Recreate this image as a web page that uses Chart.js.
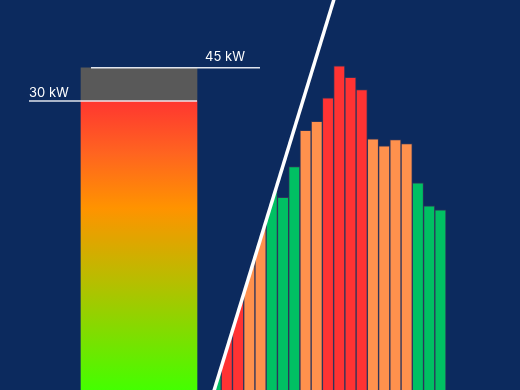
<!DOCTYPE html>
<html>
<head>
<meta charset="utf-8">
<script src="https://cdn.jsdelivr.net/npm/chart.js@4/dist/chart.umd.min.js"></script>
<style>
  html, body { margin: 0; padding: 0; background: #0c2a5e; }
  #wrap { width: 520px; height: 390px; position: relative; }
  #wrap canvas { position: absolute; left: 0; top: 0; }
</style>
</head>
<body>
<div id="wrap">
  <canvas id="capacity" width="520" height="390"></canvas>
  <canvas id="load" width="520" height="390"></canvas>
</div>
<script>
// ---- data ----
const loadValues = [50, 76, 78, 65, 67, 55, 49.4, 57.3, 66.6, 68.9, 74.9, 83.1, 80.2, 77.0, 64.4, 62.6, 64.2, 63.2, 53.1, 47.2, 46.2];
const loadIndex = loadValues.map((v, i) => i);
const orangeThreshold = 60;
const redThreshold = 72;
const baseLevel = -100;
const levelValues = [30, 45];
const levelLabels = ['30 kW', '45 kW'];

const GREEN = '#00c063';
const ORANGE = '#ff914d';
const RED = '#ff3333';
const GREY = '#595959';

function barColor(v) {
  if (v >= redThreshold) return RED;
  if (v >= orangeThreshold) return ORANGE;
  return GREEN;
}

function gradientFill(ctx) {
  const chart = ctx.chart;
  if (!chart.chartArea) return RED;
  const y = chart.scales.y;
  const top = y.getPixelForValue(levelValues[0]);
  const bottom = y.getPixelForValue(baseLevel);
  const g = chart.ctx.createLinearGradient(0, top, 0, bottom);
  g.addColorStop(0, '#ff3630');
  g.addColorStop(0.18, '#ff6420');
  g.addColorStop(0.37, '#ff9300');
  g.addColorStop(0.62, '#b8bd00');
  g.addColorStop(1, '#44ff00');
  return g;
}

// diagonal divider, as fractions of chart area
const divider = { bottomX: 0.4096, topX: 0.6442 };

const levelPlugin = {
  id: 'levels',
  afterDatasetsDraw(chart) {
    const c = chart.ctx;
    const bar = chart.getDatasetMeta(0).data[0];
    const left = bar.x - bar.width / 2;
    const right = bar.x + bar.width / 2;
    const y = chart.scales.y;
    c.save();
    c.strokeStyle = 'rgba(235,238,245,0.95)';
    c.lineWidth = 1.5;
    c.fillStyle = '#ffffff';
    c.font = '13px Inter, "Open Sans", sans-serif';
    c.textBaseline = 'alphabetic';
    // 30 kW
    const y30 = y.getPixelForValue(levelValues[0]);
    c.beginPath();
    c.moveTo(left - 52, y30);
    c.lineTo(right, y30);
    c.stroke();
    c.textAlign = 'left';
    c.fillText(levelLabels[0], left - 52, y30 - 4.5);
    // 45 kW
    const y45 = y.getPixelForValue(levelValues[1]);
    c.beginPath();
    c.moveTo(left + 10, y45);
    c.lineTo(right + 63, y45);
    c.stroke();
    c.textAlign = 'right';
    c.fillText(levelLabels[1], right + 48, y45 - 6.5);
    c.restore();
  }
};

const clipPlugin = {
  id: 'diagClip',
  beforeDatasetDraw(chart) {
    const a = chart.chartArea, c = chart.ctx;
    const w = a.right - a.left;
    c.save();
    c.beginPath();
    c.moveTo(a.left + w * divider.topX, a.top);
    c.lineTo(a.right, a.top);
    c.lineTo(a.right, a.bottom);
    c.lineTo(a.left + w * divider.bottomX, a.bottom);
    c.closePath();
    c.clip();
  },
  afterDatasetDraw(chart) {
    chart.ctx.restore();
  },
  afterDatasetsDraw(chart) {
    const a = chart.chartArea, c = chart.ctx;
    const w = a.right - a.left;
    c.save();
    c.strokeStyle = '#ffffff';
    c.lineWidth = 3.5;
    c.beginPath();
    c.moveTo(a.left + w * divider.bottomX, a.bottom + 4);
    c.lineTo(a.left + w * divider.topX, a.top - 4);
    c.stroke();
    c.restore();
  }
};

const common = {
  responsive: false,
  animation: false,
  layout: { padding: 0 },
  plugins: { legend: { display: false }, tooltip: { enabled: false }, title: { display: false } }
};

// left: capacity column
new Chart(document.getElementById('capacity'), {
  type: 'bar',
  data: {
    datasets: [
      {
        data: [{ x: 0.2673, y: [baseLevel, levelValues[0]] }],
        stack: 'capacity',
        backgroundColor: gradientFill,
        borderWidth: 0,
        barThickness: 116
      },
      {
        data: [{ x: 0.2673, y: [levelValues[0], levelValues[1]] }],
        stack: 'capacity',
        backgroundColor: GREY,
        borderWidth: 0,
        barThickness: 116
      }
    ]
  },
  options: Object.assign({}, common, {
    scales: {
      x: { type: 'linear', display: false, offset: false, stacked: true, min: 0, max: 1 },
      y: { type: 'linear', display: false, stacked: false, min: baseLevel, max: 75.5 }
    }
  }),
  plugins: [levelPlugin]
});

// right: load profile
new Chart(document.getElementById('load'), {
  type: 'bar',
  data: {
    datasets: [
      {
        data: loadIndex.map((x, i) => ({ x: x, y: loadValues[i] })),
        backgroundColor: loadValues.map(barColor),
        borderColor: 'rgba(70,60,90,0.55)',
        borderWidth: 1,
        categoryPercentage: 1,
        barPercentage: 1
      }
    ]
  },
  options: Object.assign({}, common, {
    scales: {
      x: {
        type: 'linear', display: false, offset: false, min: -19.18, max: 27.08,
        afterBuildTicks: (scale) => { scale.ticks = loadIndex.map(v => ({ value: v })); }
      },
      y: { type: 'linear', display: false, min: 0, max: 100 }
    }
  }),
  plugins: [clipPlugin]
});
</script>
</body>
</html>
